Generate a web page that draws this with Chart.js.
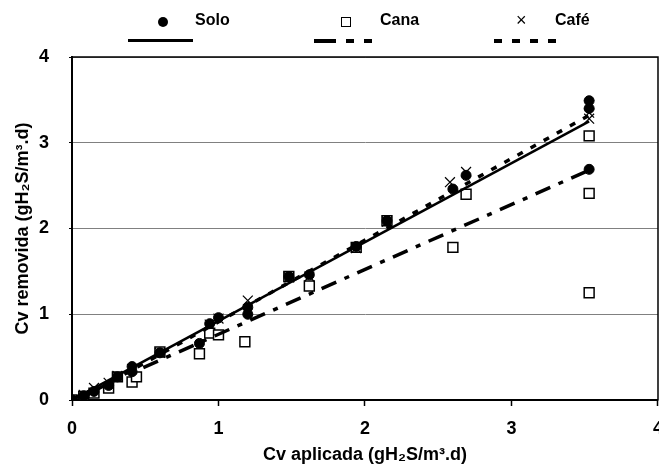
<!DOCTYPE html>
<html>
<head>
<meta charset="utf-8">
<script src="https://cdn.jsdelivr.net/npm/chart.js@4/dist/chart.umd.min.js"></script>
<style>
html,body{margin:0;padding:0;background:#fff;overflow:hidden;width:659px;height:466px;}
#wrap{position:relative;width:675px;height:466px;}
#legend{position:absolute;left:0;top:0;width:659px;height:50px;font-family:"Liberation Sans",Arial,sans-serif;font-weight:bold;font-size:16px;color:#000;}
.lt{position:absolute;top:11px;}
.mk{position:absolute;}
.ln{position:absolute;top:39px;height:0;}
</style>
</head>
<body>
<div id="wrap">
<canvas id="c" width="675" height="466"></canvas>
<div id="legend">
  <div class="mk" style="left:158px;top:17px;width:10px;height:10px;border-radius:50%;background:#000;"></div>
  <div class="lt" style="left:195px;">Solo</div>
  <div class="ln" style="left:128px;width:65px;border-top:3px solid #000;"></div>

  <div class="mk" style="left:341px;top:17px;width:8px;height:8px;border:1.5px solid #000;background:#fff;"></div>
  <div class="lt" style="left:380px;">Cana</div>
  <div class="ln" style="left:314px;width:22px;border-top:4px solid #000;"></div>
  <div class="ln" style="left:346px;width:8px;border-top:4px solid #000;"></div>
  <div class="ln" style="left:364px;width:8px;border-top:4px solid #000;"></div>

  <div class="mk" style="left:516px;top:10px;font-weight:normal;font-size:18px;">&#215;</div>
  <div class="lt" style="left:555px;">Café</div>
  <div class="ln" style="left:494px;width:8px;border-top:4px solid #000;"></div>
  <div class="ln" style="left:512px;width:8px;border-top:4px solid #000;"></div>
  <div class="ln" style="left:530px;width:8px;border-top:4px solid #000;"></div>
  <div class="ln" style="left:548px;width:8px;border-top:4px solid #000;"></div>
</div>
</div>
<script>
// Data (x = Cv aplicada, y = Cv removida)
const soloX = [0, 0.08, 0.15, 0.25, 0.31, 0.41, 0.41, 0.60, 0.87, 0.94, 1.00, 1.20, 1.20, 1.48, 1.62, 1.94, 2.15, 2.60, 2.69, 3.53, 3.53, 3.53];
const soloY = [0, 0.05, 0.10, 0.17, 0.27, 0.39, 0.33, 0.55, 0.66, 0.89, 0.96, 1.00, 1.08, 1.44, 1.46, 1.79, 2.09, 2.46, 2.62, 3.49, 3.40, 2.69];
const canaX = [0, 0.08, 0.15, 0.25, 0.31, 0.41, 0.44, 0.60, 0.87, 0.94, 1.00, 1.18, 1.48, 1.62, 1.94, 2.15, 2.60, 2.69, 3.53, 3.53, 3.53];
const canaY = [0, 0.04, 0.08, 0.14, 0.27, 0.21, 0.27, 0.56, 0.54, 0.78, 0.76, 0.68, 1.44, 1.33, 1.78, 2.09, 1.78, 2.40, 3.08, 2.41, 1.25];
const cafeX = [0, 0.08, 0.15, 0.25, 0.31, 0.41, 0.60, 0.94, 1.00, 1.20, 1.48, 1.62, 1.94, 2.15, 2.58, 2.69, 3.53, 3.53, 3.53];
const cafeY = [0, 0.06, 0.14, 0.20, 0.28, 0.36, 0.55, 0.88, 0.95, 1.16, 1.43, 1.44, 1.77, 2.08, 2.54, 2.66, 3.44, 3.35, 3.28];
// Trend lines (start/end points)
const soloTrendX = [0, 3.53];
const soloTrendY = [0.0, 3.25];
const canaTrendX = [0, 3.53];
const canaTrendY = [0.01, 2.68];
const cafeTrendX = [0, 3.53];
const cafeTrendY = [-0.04, 3.32];
const xTicks = [0, 1, 2, 3, 4];
const yTicks = [0, 1, 2, 3, 4];

const pts = (xs, ys) => xs.map((x, i) => ({x: x, y: ys[i]}));
const FONT = "'Liberation Sans', Arial, sans-serif";

const frame = {
  id: 'frame',
  afterDatasetsDraw(chart) {
    const a = chart.chartArea, ctx = chart.ctx;
    ctx.save();
    ctx.strokeStyle = '#000';
    ctx.lineWidth = 1.5;
    ctx.strokeRect(a.left, a.top, a.right - a.left, a.bottom - a.top);
    ctx.restore();
  }
};

new Chart(document.getElementById('c'), {
  type: 'scatter',
  data: {
    datasets: [
      {label: 'Solo tendência', type: 'line', data: pts(soloTrendX, soloTrendY), borderColor: '#000', borderWidth: 2.5, pointRadius: 0, fill: false, order: 0},
      {label: 'Cana tendência', type: 'line', data: pts(canaTrendX, canaTrendY), borderColor: '#000', borderWidth: 3.5, borderDash: [16, 9, 5, 9], pointRadius: 0, fill: false, order: 0},
      {label: 'Café tendência', type: 'line', data: pts(cafeTrendX, cafeTrendY), borderColor: '#000', borderWidth: 3.5, borderDash: [6, 9], pointRadius: 0, fill: false, order: 0},
      {label: 'Cana', data: pts(canaX, canaY), pointStyle: 'rect', pointRadius: 7, pointBackgroundColor: '#fff', pointBorderColor: '#000', pointBorderWidth: 1.5, order: 3},
      {label: 'Solo', data: pts(soloX, soloY), pointStyle: 'circle', pointRadius: 5, pointBackgroundColor: '#000', pointBorderColor: '#000', pointBorderWidth: 1, order: 2},
      {label: 'Café', data: pts(cafeX, cafeY), pointStyle: 'crossRot', pointRadius: 7, pointBorderColor: '#000', pointBorderWidth: 1.2, order: 1}
    ]
  },
  options: {
    responsive: false,
    animation: false,
    events: [],
    layout: {padding: {top: 57, right: 0, left: 0, bottom: 0}},
    plugins: {legend: {display: false}, tooltip: {enabled: false}},
    scales: {
      x: {
        type: 'linear', min: 0, max: 4,
        afterBuildTicks: s => { s.ticks = xTicks.map(v => ({value: v})); },
        afterFit: s => { s.height = 66; },
        ticks: {font: {family: FONT, size: 18, weight: 'bold'}, color: '#000', padding: 12},
        grid: {drawOnChartArea: false, drawTicks: true, tickLength: 6, tickColor: '#000', tickWidth: 1.5},
        border: {color: '#000', width: 2},
        title: {display: true, text: 'Cv aplicada (gH₂S/m³.d)', font: {family: FONT, size: 18, weight: 'bold'}, color: '#000', padding: {top: 0, bottom: 0}}
      },
      y: {
        type: 'linear', min: 0, max: 4,
        afterBuildTicks: s => { s.ticks = yTicks.map(v => ({value: v})); },
        afterFit: s => { s.width = 72; },
        ticks: {font: {family: FONT, size: 18, weight: 'bold'}, color: '#000', padding: 20},
        grid: {color: '#808080', lineWidth: 1, drawTicks: true, tickLength: 3, tickColor: '#000'},
        border: {color: '#000', width: 2},
        title: {display: true, text: 'Cv removida (gH₂S/m³.d)', font: {family: FONT, size: 18, weight: 'bold'}, color: '#000', padding: {top: 12, bottom: 0}}
      }
    }
  },
  plugins: [frame]
});
</script>
</body>
</html>
